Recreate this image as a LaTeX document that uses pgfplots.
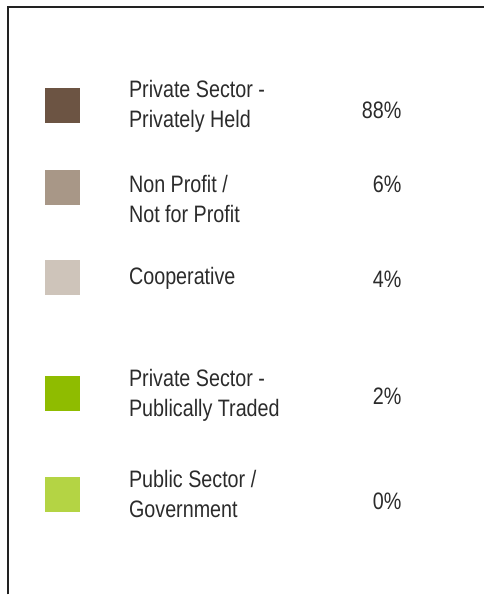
\documentclass[border=0pt]{standalone}
\usepackage{fontspec}
\setmainfont{Liberation Sans}[FakeStretch=0.83]
\usepackage{pgfplots}
\pgfplotsset{compat=1.18}
\definecolor{c1}{HTML}{6C5443}
\definecolor{c2}{HTML}{A89787}
\definecolor{c3}{HTML}{CEC4BA}
\definecolor{c4}{HTML}{8FBC00}
\definecolor{c5}{HTML}{B4D444}
\definecolor{txt}{HTML}{2B2B2B}
\definecolor{frame}{HTML}{222222}
\begin{document}
\begin{tikzpicture}
\begin{axis}[scale only axis, width=485pt, height=595pt,
  xmin=0, xmax=485, ymin=0, ymax=595, y dir=reverse, hide axis, clip=false]
\addplot[draw=none] coordinates {(0,0) (485,595)};
\addplot[line width=1.3pt, color=frame] coordinates {(8,595) (8,7) (485,7)};
\addplot[c1, only marks, mark=square*, mark size=17pt, mark options={fill=c1, draw=c1, line width=0pt}] coordinates {(63,106)};
\addplot[c2, only marks, mark=square*, mark size=17pt, mark options={fill=c2, draw=c2, line width=0pt}] coordinates {(63,188)};
\addplot[c3, only marks, mark=square*, mark size=17pt, mark options={fill=c3, draw=c3, line width=0pt}] coordinates {(63,278)};
\addplot[c4, only marks, mark=square*, mark size=17pt, mark options={fill=c4, draw=c4, line width=0pt}] coordinates {(63,394)};
\addplot[c5, only marks, mark=square*, mark size=17pt, mark options={fill=c5, draw=c5, line width=0pt}] coordinates {(63,495)};
\addplot[draw=none, nodes near coords, point meta=explicit symbolic,
  nodes near coords style={anchor=base west, inner sep=0pt, text=txt, font=\fontsize{23.8}{24}\selectfont}]
  coordinates {
  (129,98) [Private Sector -]
  (129,128) [Privately Held]
  (129,193) [Non Profit /]
  (129,223) [Not for Profit]
  (129,285) [Cooperative]
  (129,387) [Private Sector -]
  (129,417) [Publically Traded]
  (129,488) [Public Sector /]
  (129,518) [Government]
  };
\addplot[draw=none, nodes near coords, point meta=explicit symbolic,
  nodes near coords style={anchor=base east, inner sep=0pt, text=txt, font=\fontsize{23.8}{24}\selectfont}]
  coordinates {
  (402,119) [88\%]
  (402,193) [6\%]
  (402,288) [4\%]
  (402,405) [2\%]
  (402,510) [0\%]
  };
\end{axis}
\end{tikzpicture}
\end{document}
